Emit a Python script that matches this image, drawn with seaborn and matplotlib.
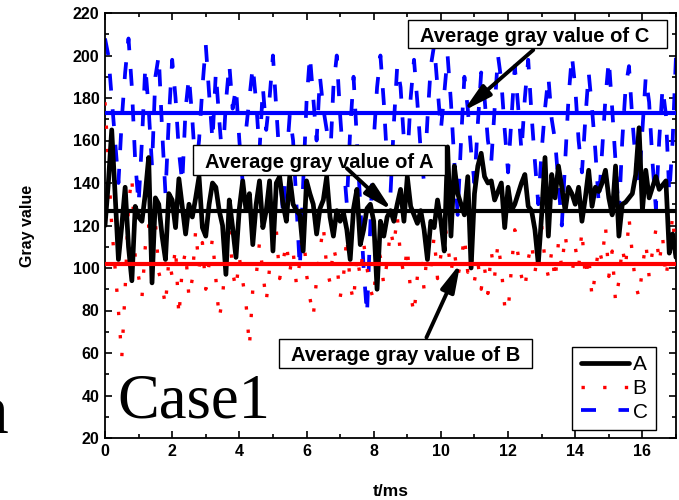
import numpy as np
import pandas as pd
import matplotlib
matplotlib.use("Agg")
import matplotlib.pyplot as plt
from matplotlib.ticker import MultipleLocator
from matplotlib.lines import Line2D
from matplotlib.patches import Rectangle
import seaborn as sns

# ---------------- data ----------------
t_ms = [round(0.1 * i, 1) for i in range(171)]

A_values = [120, 140, 165, 135, 104, 120, 138, 110, 94, 129,
            124, 122, 135, 152, 93, 133, 130, 115, 104, 135,
            132, 119, 142, 129, 116, 130, 124, 133, 143, 119,
            115, 130, 140, 138, 127, 120, 97, 132, 119, 105,
            128, 141, 127, 135, 111, 130, 141, 119, 127, 141,
            108, 140, 143, 130, 122, 143, 130, 127, 125, 108,
            141, 135, 130, 116, 128, 132, 143, 124, 115, 127,
            122, 126, 118, 104, 128, 137, 111, 118, 128, 130,
            122, 90, 122, 115, 124, 127, 122, 130, 137, 122,
            143, 129, 125, 121, 127, 118, 104, 122, 119, 132,
            122, 108, 157, 115, 148, 135, 130, 125, 143, 100,
            135, 148, 154, 143, 140, 141, 132, 136, 140, 119,
            138, 127, 130, 135, 140, 144, 129, 127, 118, 102,
            125, 152, 115, 144, 133, 148, 138, 127, 138, 135,
            130, 138, 122, 133, 146, 129, 138, 136, 140, 146,
            133, 125, 148, 115, 130, 131, 133, 135, 144, 166,
            127, 146, 133, 138, 143, 137, 139, 141, 107, 116,
            105]

B_values = [178, 150, 120, 100, 80, 58, 90, 130, 143, 105,
            96, 86, 110, 120, 106, 122, 98, 92, 82, 104,
            96, 110, 77, 100, 108, 86, 95, 118, 100, 112,
            90, 102, 114, 95, 76, 86, 108, 120, 98, 90,
            105, 94, 83, 63, 90, 96, 112, 98, 84, 100,
            108, 118, 95, 103, 112, 98, 108, 92, 103, 120,
            97, 86, 77, 95, 108, 120, 100, 93, 110, 103,
            86, 96, 115, 92, 84, 106, 96, 112, 100, 90,
            85, 110, 105, 92, 103, 118, 110, 125, 105, 97,
            110, 88, 78, 96, 104, 90, 110, 100, 115, 95,
            106, 122, 112, 98, 108, 96, 103, 115, 98, 106,
            94, 103, 90, 100, 88, 108, 96, 112, 100, 82,
            79, 100, 118, 106, 96, 90, 104, 112, 98, 108,
            120, 103, 96, 108, 94, 112, 100, 116, 103, 96,
            110, 100, 118, 95, 106, 86, 98, 110, 103, 120,
            96, 108, 84, 94, 110, 100, 124, 106, 92, 86,
            100, 112, 96, 108, 118, 102, 115, 95, 108, 125,
            103]

C_values = [208, 200, 180, 160, 140, 170, 192, 208, 185, 150,
            130, 160, 195, 175, 148, 190, 200, 165, 135, 170,
            198, 180, 155, 140, 175, 190, 170, 145, 160, 185,
            205, 182, 160, 192, 170, 150, 178, 196, 175, 185,
            160, 140, 165, 180, 195, 178, 155, 185, 165, 180,
            200, 175, 150, 125, 150, 172, 160, 130, 100, 140,
            178, 200, 180, 160, 190, 175, 165, 150, 185, 200,
            172, 150, 130, 165, 190, 160, 130, 100, 78, 120,
            160, 185, 200, 178, 150, 135, 168, 195, 185, 160,
            150, 180, 198, 178, 155, 140, 170, 195, 205, 185,
            165, 182, 200, 178, 150, 125, 160, 190, 175, 155,
            140, 168, 192, 180, 160, 150, 175, 200, 188, 165,
            145, 170, 195, 176, 155, 180, 198, 172, 150, 130,
            155, 175, 190, 170, 160, 140, 120, 150, 180, 200,
            185, 160, 145, 170, 192, 175, 155, 130, 155, 180,
            198, 175, 150, 125, 160, 185, 195, 170, 150, 140,
            165, 190, 178, 150, 128, 160, 185, 172, 135, 160,
            200]

avg_A = 127
avg_B = 102
avg_C = 173

series_names = ["A", "B", "C"]
labels_text = ["Average gray value of A", "Average gray value of B",
               "Average gray value of C"]
x_ticks = [0, 2, 4, 6, 8, 10, 12, 14, 16]
y_ticks = [20, 40, 60, 80, 100, 120, 140, 160, 180, 200, 220]

df = pd.DataFrame({"t": t_ms, "A": A_values, "B": B_values, "C": C_values})

# ---------------- style ----------------
sns.set_style("ticks")
plt.rcParams["font.family"] = ["Liberation Sans", "DejaVu Sans"]
plt.rcParams["axes.linewidth"] = 1.3
for key in ["text.color", "axes.labelcolor", "xtick.color", "ytick.color",
            "axes.edgecolor"]:
    plt.rcParams[key] = "black"

W, H = 679, 500
fig = plt.figure(figsize=(W / 100, H / 100), dpi=100)
ax = fig.add_axes([105 / W, 1 - 438 / H, (676 - 105) / W, (438 - 13) / H])


def fx(px):
    return px / W


def fy(py):
    return 1 - py / H


# data lines
sns.lineplot(data=df, x="t", y="C", ax=ax, color="#0000ff", lw=2.7,
             linestyle=(0, (4.5, 5)), label="C", zorder=2)
sns.lineplot(data=df, x="t", y="B", ax=ax, color="#ff0000", lw=2.4,
             linestyle=(0, (1, 6)), label="B", zorder=3)
sns.lineplot(data=df, x="t", y="A", ax=ax, color="black", lw=3.4,
             label="A", zorder=4)

# average lines
ax.axhline(avg_C, color="#0000ff", lw=3, zorder=5)
ax.axhline(avg_A, color="black", lw=3, zorder=5)
ax.axhline(avg_B, color="#ff0000", lw=3, zorder=5)

ax.set_xlim(0, 17)
ax.set_ylim(20, 220)
ax.set_xticks(x_ticks)
ax.set_yticks(y_ticks)
ax.xaxis.set_minor_locator(MultipleLocator(1))
ax.yaxis.set_minor_locator(MultipleLocator(10))
ax.tick_params(which="both", direction="in", top=True, right=True, width=1.2)
ax.tick_params(which="major", length=5, labelsize=11.5, pad=4)
ax.tick_params(which="minor", length=3)
for lab in ax.get_xticklabels() + ax.get_yticklabels():
    lab.set_fontweight("bold")

ax.set_xlabel("t/ms", fontsize=12.5, fontweight="bold", labelpad=18)
ax.set_ylabel("Gray value", fontsize=11.5, fontweight="bold", labelpad=27)

# annotation boxes (pixel extents: x0, x1, y0, y1, text centre x, baseline y)
boxes = [(408, 667, 20, 48, 534.5, 42, labels_text[2]),
         (193, 445, 145, 175, 319.5, 168, labels_text[0]),
         (279, 532, 339, 368, 405.5, 361, labels_text[1])]
for x0, x1, y0, y1, tx, ty, txt in boxes:
    ax.add_patch(Rectangle((fx(x0), fy(y1)), fx(x1) - fx(x0), fy(y0) - fy(y1),
                           transform=fig.transFigure, fc="white", ec="black",
                           lw=1.0, zorder=10, clip_on=False))
    ax.text(fx(tx), fy(ty), txt, transform=fig.transFigure, ha="center",
            va="baseline", fontsize=14.5, fontweight="bold", zorder=11)

arrow = dict(arrowstyle="-|>,head_length=1.2,head_width=0.3", lw=2.8,
             color="black", mutation_scale=14, shrinkA=0, shrinkB=0)
ax.annotate("", xy=(10.67, 173.9), xytext=(12.75, 202.6), arrowprops=arrow, zorder=12)
ax.annotate("", xy=(8.54, 127.2), xytext=(7.20, 146.9), arrowprops=arrow, zorder=12)
ax.annotate("", xy=(10.58, 102.2), xytext=(9.57, 67.3), arrowprops=arrow, zorder=12)

# Case label
ax.text(0.36, 29.7, "Case1", fontsize=45, family="Liberation Serif",
        va="baseline", ha="left", zorder=12)
fig.text(fx(8), fy(433), "n", fontsize=50, family="Liberation Serif",
         va="baseline", ha="right")

# legend
handles = [Line2D([], [], color="black", lw=3.4),
           Line2D([], [], color="#ff0000", lw=2.4, linestyle=(0, (1, 5.5))),
           Line2D([], [], color="#0000ff", lw=2.7, linestyle=(0, (4, 6)))]
leg = ax.legend(handles, series_names, loc="lower right",
                bbox_to_anchor=(0.965, 0.019), fontsize=15, frameon=True,
                fancybox=False, edgecolor="black", framealpha=1,
                handlelength=2.3, handletextpad=0.2, borderpad=0.4,
                labelspacing=0.22, borderaxespad=0.0)
leg.get_frame().set_linewidth(1.0)
leg.set_zorder(20)

fig.savefig("out.png", dpi=100)
